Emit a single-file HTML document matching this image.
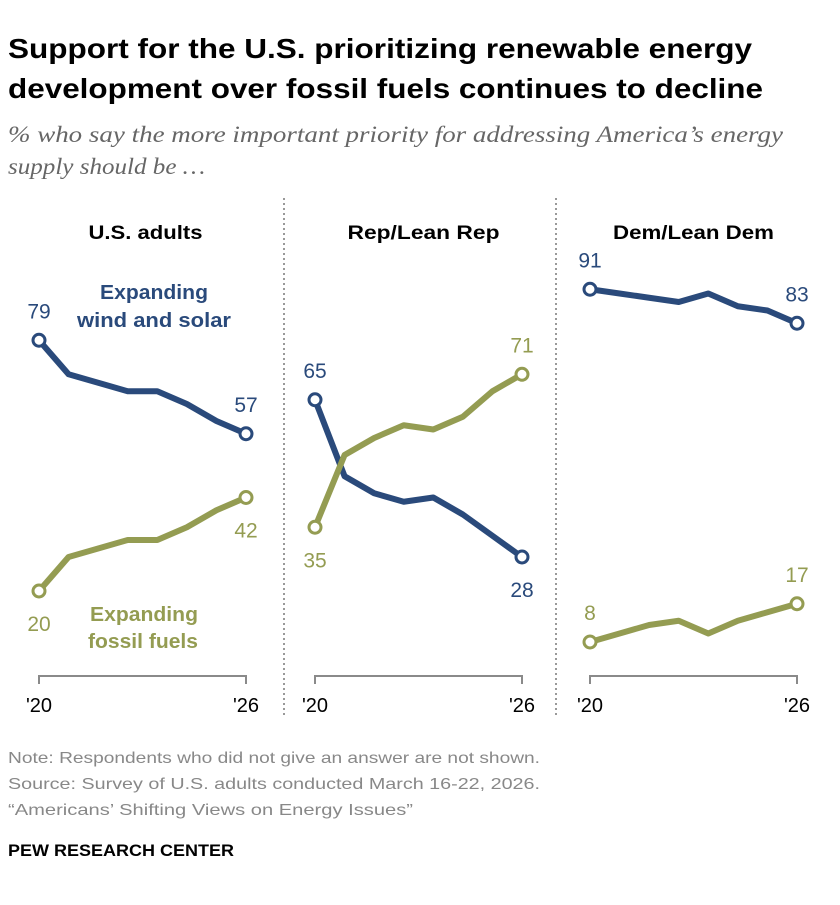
<!DOCTYPE html>
<html><head><meta charset="utf-8">
<style>
body{margin:0;background:#fff;width:840px;height:900px;overflow:hidden;font-family:"Liberation Sans",Arial,sans-serif;}
</style></head>
<body>
<svg id="chart" width="840" height="900" xmlns="http://www.w3.org/2000/svg" font-family="Liberation Sans, Arial, sans-serif">
<text x="8" y="58" font-size="28" font-weight="bold" fill="#000" textLength="744" lengthAdjust="spacingAndGlyphs">Support for the U.S. prioritizing renewable energy</text>
<text x="8" y="98" font-size="28" font-weight="bold" fill="#000" textLength="755" lengthAdjust="spacingAndGlyphs">development over fossil fuels continues to decline</text>
<text x="8" y="142" font-size="23" font-style="italic" fill="#666" font-family="Liberation Serif, serif" textLength="775" lengthAdjust="spacingAndGlyphs">% who say the more important priority for addressing America’s energy</text>
<text x="8" y="174" font-size="23" font-style="italic" fill="#666" font-family="Liberation Serif, serif" textLength="197" lengthAdjust="spacingAndGlyphs">supply should be …</text>
<line x1="284" y1="198" x2="284" y2="718" stroke="#999" stroke-width="2" stroke-dasharray="2,3"/>
<line x1="556" y1="198" x2="556" y2="718" stroke="#999" stroke-width="2" stroke-dasharray="2,3"/>
<g id="marks"></g>
<text x="100" y="299" font-size="20" font-weight="bold" fill="#2a4a7b" textLength="108" lengthAdjust="spacingAndGlyphs">Expanding</text>
<text x="77" y="327" font-size="20" font-weight="bold" fill="#2a4a7b" textLength="154" lengthAdjust="spacingAndGlyphs">wind and solar</text>
<text x="90" y="621" font-size="20" font-weight="bold" fill="#949c52" textLength="108" lengthAdjust="spacingAndGlyphs">Expanding</text>
<text x="88" y="648" font-size="20" font-weight="bold" fill="#949c52" textLength="110" lengthAdjust="spacingAndGlyphs">fossil fuels</text>
<text x="8" y="763" font-size="16" fill="#888" textLength="532" lengthAdjust="spacingAndGlyphs">Note: Respondents who did not give an answer are not shown.</text>
<text x="8" y="789" font-size="16" fill="#888" textLength="532" lengthAdjust="spacingAndGlyphs">Source: Survey of U.S. adults conducted March 16-22, 2026.</text>
<text x="8" y="815" font-size="16" fill="#888" textLength="405" lengthAdjust="spacingAndGlyphs">“Americans’ Shifting Views on Energy Issues”</text>
<text x="8" y="856" font-size="17" font-weight="bold" fill="#000" textLength="226" lengthAdjust="spacingAndGlyphs">PEW RESEARCH CENTER</text>
</svg>
<script>
const panels = ["U.S. adults","Rep/Lean Rep","Dem/Lean Dem"];
const xTicks = ["'20","'26"];
const windSolar = [
  [79,71,69,67,67,64,60,57],
  [65,47,43,41,42,38,33,28],
  [91,90,89,88,90,87,86,83]
];
const fossil = [
  [20,28,30,32,32,35,39,42],
  [35,52,56,59,58,61,67,71],
  [8,10,12,13,10,13,15,17]
];
const NS="http://www.w3.org/2000/svg";
const g=document.getElementById('marks');
const panelLeft=[39,315,590], panelW=207;
const titleW=[114,152,161];
function yScale(v){return 676-v*4.25;}
function xScale(p,i,n){return panelLeft[p]+i*panelW/(n-1);}
function mk(tag,attrs){const e=document.createElementNS(NS,tag);for(const k in attrs)e.setAttribute(k,attrs[k]);g.appendChild(e);return e;}
const blue="#2a4a7b", green="#949c52";
panels.forEach((name,p)=>{
  const cx=panelLeft[p]+panelW/2+(p===0?3:p===1?5:0);
  const h=mk('text',{x:cx,y:239,'font-size':19,'font-weight':'bold','text-anchor':'middle',fill:'#000',textLength:titleW[p],lengthAdjust:'spacingAndGlyphs'});
  h.textContent=name;
  
  
  const ax=mk('path',{d:`M${panelLeft[p]},684V676H${panelLeft[p]+panelW}V684`,fill:'none',stroke:'#8a8a8a','stroke-width':2});
  
  
  xTicks.forEach((t,i)=>{
    const tx=mk('text',{x:panelLeft[p]+i*panelW,y:712,'font-size':20,'text-anchor':'middle',fill:'#000'});
    tx.textContent=t;
    
    
  });
  [[windSolar[p],blue,'wind-solar'],[fossil[p],green,'fossil-fuels']].forEach(([vals,col,sn])=>{
    const n=vals.length;
    const pts=vals.map((v,i)=>xScale(p,i,n)+','+yScale(v)).join(' ');
    const l=mk('polyline',{points:pts,fill:'none',stroke:col,'stroke-width':6,'stroke-linejoin':'round'});
    
    
    [0,n-1].forEach(i=>{
      const x=xScale(p,i,n), y=yScale(vals[i]);
      const c=mk('circle',{cx:x,cy:y,r:6,fill:'#fff',stroke:col,'stroke-width':3});
      
      
      const other=(sn==='wind-solar'?fossil:windSolar)[p][i];
      let above=vals[i]>=other;
      if(p===2) above=true;
      const t=mk('text',{x:x,y:above?y-22:y+40,'font-size':21,'text-anchor':'middle',fill:col});
      t.textContent=vals[i];
      
      
    });
  });
});
</script>
</body></html>
